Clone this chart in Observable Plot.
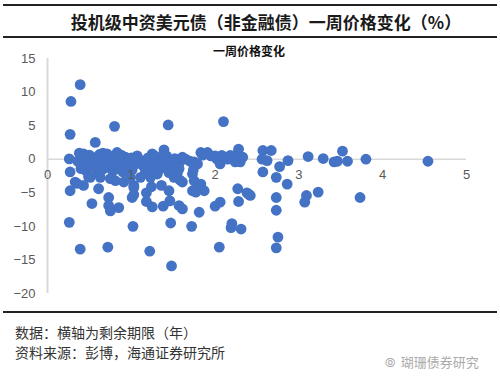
<!DOCTYPE html>
<html>
<head>
<meta charset="utf-8">
<script src="https://cdn.jsdelivr.net/npm/d3@7"></script>
<script src="https://cdn.jsdelivr.net/npm/@observablehq/plot@0.6"></script>
<style>
  html, body { margin: 0; padding: 0; background: #fff; }
  body { width: 500px; height: 386px; position: relative; overflow: hidden; font-family: "Noto Sans CJK SC", sans-serif; }
  .rule { position: absolute; left: 3px; width: 494px; height: 2px; background: #222; }
  #title { position: absolute; top: 12px; left: 0; width: 532px; text-align: center; font-size: 17px; font-weight: 700; color: #1a1a1a; line-height: 20px; }
  #chart { position: absolute; top: 40px; left: 0; }
  #inner { position: absolute; top: 44px; left: 0; width: 498px; text-align: center; font-size: 12px; font-weight: 700; color: #111; line-height: 14px; }
  .note { position: absolute; left: 15px; font-size: 14px; color: #333; line-height: 16px; }
  #wm { position: absolute; left: 385px; top: 354px; font-size: 13px; color: #aaa; line-height: 16px; }
</style>
</head>
<body>
<div class="rule" style="top:4px"></div>
<div id="title">投机级中资美元债（非金融债）一周价格变化（%）</div>
<div class="rule" style="top:36px"></div>
<div id="chart"></div>
<div id="inner">一周价格变化</div>
<div class="rule" style="top:311px"></div>
<div class="note" style="top:324px">数据：横轴为剩余期限（年）</div>
<div class="note" style="top:344px">资料来源：彭博，海通证券研究所</div>
<div id="wm">⦾ &nbsp;瑚珊债券研究</div>
<script>
// remaining maturity (years)
const maturity = [
  0.39, 0.28, 0.27, 0.80, 1.44, 2.10, 0.57, 1.39, 2.28,
  0.26, 0.38, 0.43, 0.50, 0.56, 0.62, 0.66, 0.71, 0.76, 0.83, 0.88, 0.93, 1.00, 1.07, 1.12,
  0.36, 0.42, 0.47, 0.52, 0.58, 0.64, 0.69, 0.74, 0.80, 0.86, 0.91, 0.97, 1.03, 1.09, 1.15,
  0.40, 0.46, 0.55, 0.60, 0.66, 0.72, 0.78, 0.84, 0.90, 0.95, 1.01,
  0.45, 0.53, 0.61, 0.69, 0.77, 0.85, 0.94, 1.04, 0.40, 0.57, 0.73, 0.88,
  0.27, 0.33, 0.43, 0.27, 0.51, 0.61, 0.73, 0.53, 0.73, 0.85, 1.01, 1.11, 1.03, 0.91, 0.81, 0.63, 0.75, 0.99, 0.35, 0.49, 0.75, 1.03,
  1.19, 1.25, 1.20, 1.30, 1.35, 1.42, 1.47, 1.52, 1.57, 1.61, 1.65, 1.70, 1.75, 1.79, 1.83, 1.91, 1.85, 1.95, 2.02, 2.06, 2.12, 2.00,
  1.31, 1.43, 1.51, 1.61, 1.57, 1.38, 1.45, 1.27, 1.33, 1.49, 1.73, 1.74, 1.23, 1.17, 1.28, 1.40, 1.55,
  1.18, 1.24, 1.36, 1.45, 1.46, 1.38, 1.25, 1.18,
  1.03, 1.57, 1.61, 1.58, 1.81, 1.73, 1.79, 1.83, 1.87, 1.75, 1.77, 2.00, 2.06, 2.27, 2.28, 2.40, 2.42, 2.38,
  0.26, 0.39, 0.72, 1.22, 1.48, 1.02, 1.47, 1.72, 2.05, 2.20, 2.19, 2.31,
  2.73, 2.73, 2.75, 2.73, 2.86, 2.73, 2.57, 2.77, 2.87, 3.09, 3.07, 3.23, 3.73,
  3.11, 3.29, 3.42, 3.46, 3.58, 3.52, 3.80, 4.54,
  2.57, 2.67, 2.56, 2.62, 2.22, 2.30, 2.24, 2.18, 2.08, 2.15, 2.27, 2.33
];
// one-week price change (%)
const priceChange = [
  11.1, 8.6, 3.7, 4.9, 5.1, 5.6, 2.5, 1.4, 1.5,
  0.05, 0.9, 0.8, 0.6, 0.2, 0.7, 0.9, 0.8, 0.4, 1.0, 0.6, 0.3, 0.2, 0.5, -0.2,
  -0.3, -0.5, -0.1, -0.7, -0.4, -0.2, -0.9, -0.3, -0.6, -0.1, -0.8, -0.4, -0.9, -0.6, -1.1,
  -1.4, -1.7, -1.2, -1.9, -1.5, -1.2, -1.8, -1.4, -1.9, -1.3, -1.6,
  0.1, -0.3, 0.2, 0.3, -1.0, 0.2, -1.0, 0.0, -0.9, -1.0, -0.8, -1.2,
  -1.9, -3.4, -3.9, -4.7, -2.7, -4.4, -5.7, -6.6, -6.9, -7.2, -5.7, -2.7, -3.9, -3.4, -3.2, -2.7, -2.9, -2.7, -3.6, -2.6, -7.7, -4.2,
  -0.7, 0.8, 0.2, 0.4, -0.3, 0.5, -0.5, 0.1, -0.6, 0.3, 0.0, -0.3, -0.4, -0.7, 1.0, 1.0, 0.6, 0.5, 0.05, -0.7, 0.3, 0.5,
  -2.2, -1.4, -2.7, -3.4, -1.4, -1.2, -2.0, -1.4, -1.6, -1.0, -2.2, -1.6, -2.7, -1.8, -0.6, -0.4, -2.0,
  -5.0, -4.1, -3.9, -4.7, -6.2, -7.0, -7.1, -6.3,
  -5.3, -6.9, -7.4, -3.1, -7.9, -4.7, -4.2, -3.7, -4.7, -3.2, -4.9, -7.0, -6.4, -4.4, -6.3, -5.2, -5.4, -5.0,
  -9.4, -13.4, -13.1, -13.7, -15.9, -10.0, -9.5, -10.0, -13.1, -9.6, -10.2, -10.4,
  -5.7, -7.6, -11.6, -13.2, -3.7, -2.7, -1.9, -1.1, -0.2, -5.4, -6.4, -4.9, -5.7,
  0.4, 0.1, -0.4, -0.3, -0.3, 1.2, 0.0, -0.3,
  1.3, 1.3, 0.0, -0.2, 0.5, -0.4, -0.4, 0.55, 0.55, 0.0, 0.2, 0.3
];
const xTicks = [0, 1, 2, 3, 4, 5];
const yTicks = [-20, -15, -10, -5, 0, 5, 10, 15];

const points = maturity.map((m, i) => ({m, c: priceChange[i]}));

const chart = Plot.plot({
  width: 500,
  height: 270,
  marginTop: 18,
  marginBottom: 17,
  marginLeft: 47,
  marginRight: 34,
  x: {domain: [0, 5], axis: null, label: null},
  y: {domain: [-20, 15], label: null},
  style: {fontFamily: "Arial, 'Liberation Sans', sans-serif", fontSize: "13px", color: "#595959", background: "transparent"},
  marks: [
    Plot.ruleY([0], {stroke: "#d9d9d9", strokeWidth: 1.5}),
    Plot.ruleX([0], {stroke: "#d9d9d9", strokeWidth: 2}),
    Plot.axisY(yTicks, {tickSize: 0, tickPadding: 12, fontSize: 13, fill: "#595959", label: null}),
    Plot.dot(points, {x: "m", y: "c", r: 5.4, fill: "#4472c4"}),
    Plot.text(xTicks, {x: d => d, y: 0, dy: 16, fontSize: 13, fill: "#595959"})
  ]
});
document.getElementById("chart").appendChild(chart);
</script>
</body>
</html>
